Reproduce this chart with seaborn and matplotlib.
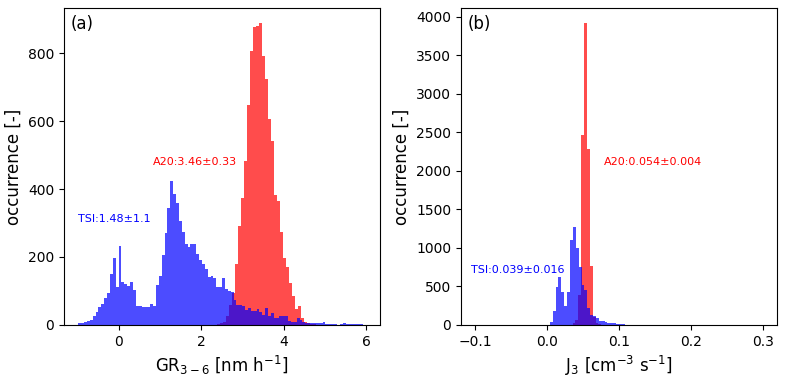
import numpy as np
import pandas as pd
import matplotlib
matplotlib.use("Agg")
import matplotlib.pyplot as plt
import seaborn as sns

# ---- data: binned histogram counts ----
# (a) growth rate GR_3-6
tsi_gr_start, tsi_gr_width = -0.977, 0.0697
tsi_gr_counts = [5, 6, 8, 11, 14, 25, 38, 53, 62, 79,
                 94, 150, 197, 113, 232, 125, 122, 116, 127, 103,
                 57, 57, 52, 54, 54, 62, 56, 118, 144, 206,
                 272, 345, 423, 385, 358, 306, 275, 238, 228, 238,
                 238, 210, 191, 178, 166, 140, 144, 137, 111, 113,
                 139, 105, 100, 96, 74, 59, 59, 55, 44, 51,
                 41, 41, 46, 37, 29, 51, 25, 36, 22, 22,
                 27, 27, 25, 12, 10, 10, 20, 15, 8, 5,
                 7, 7, 7, 7, 6, 8, 3, 3, 3, 3,
                 0, 3, 6, 2, 3, 3, 3, 3, 2, 1]

a20_gr_start, a20_gr_width = 2.384, 0.0725
a20_gr_counts = [3, 5, 10, 25, 60, 95, 179, 291, 373, 483,
                 647, 806, 876, 880, 888, 791, 724, 606, 542, 382,
                 365, 275, 196, 170, 123, 85, 46, 56, 20, 10,
                 5, 3, 2]

# (b) formation rate J_3
tsi_j_start, tsi_j_width = 0.004, 0.004
tsi_j_counts = [43, 182, 498, 619, 430, 247, 429, 1104, 1277, 996,
                749, 519, 455, 216, 130, 117, 90, 56, 50, 43,
                30, 22, 22, 13, 13, 8, 5, 5]

a20_j_start, a20_j_width = 0.0355, 0.004
a20_j_counts = [20, 60, 390, 2468, 3920, 2283, 766, 110, 30, 10, 5]

labels_a = ["TSI:1.48\u00b11.1", "A20:3.46\u00b10.33"]
labels_b = ["TSI:0.039\u00b10.016", "A20:0.054\u00b10.004"]


def draw_hist(ax, start, width, counts, color):
    counts = np.asarray(counts, dtype=float)
    edges = start + width * np.arange(len(counts) + 1)
    df = pd.DataFrame({"x": edges[:-1] + width / 2, "w": counts})
    sns.histplot(data=df, x="x", weights="w", bins=edges.tolist(), color=color,
                 alpha=0.7, linewidth=0, edgecolor="none", ax=ax)


fig, axes = plt.subplots(1, 2, figsize=(7.86, 3.81), dpi=100)
fig.subplots_adjust(left=0.0814, right=0.9885, bottom=0.147, top=0.979, wspace=0.256)

# Panel (a)
ax = axes[0]
draw_hist(ax, a20_gr_start, a20_gr_width, a20_gr_counts, "red")
draw_hist(ax, tsi_gr_start, tsi_gr_width, tsi_gr_counts, "blue")
ax.set_xlim(-1.325, 6.34)
ax.set_xticks([0, 2, 4, 6])
ax.set_xlabel(r"GR$_{3-6}$ [nm h$^{-1}$]", fontsize=12)
ax.set_ylabel("occurrence [-]", fontsize=12)
ax.text(0.02, 0.95, "(a)", transform=ax.transAxes, fontsize=12, va="center")
ax.text(-0.99, 312, labels_a[0], color="blue", fontsize=8, va="center")
ax.text(0.82, 479, labels_a[1], color="red", fontsize=8, va="center")

# Panel (b)
ax = axes[1]
draw_hist(ax, a20_j_start, a20_j_width, a20_j_counts, "red")
draw_hist(ax, tsi_j_start, tsi_j_width, tsi_j_counts, "blue")
ax.set_xlim(-0.1195, 0.3195)
ax.set_xticks([-0.1, 0.0, 0.1, 0.2, 0.3])
ax.set_xlabel(r"J$_3$ [cm$^{-3}$ s$^{-1}$]", fontsize=12)
ax.set_ylabel("occurrence [-]", fontsize=12)
ax.text(0.02, 0.95, "(b)", transform=ax.transAxes, fontsize=12, va="center")
ax.text(-0.1055, 714, labels_b[0], color="blue", fontsize=8, va="center")
ax.text(0.079, 2117, labels_b[1], color="red", fontsize=8, va="center")

fig.savefig("out.png", dpi=100)
